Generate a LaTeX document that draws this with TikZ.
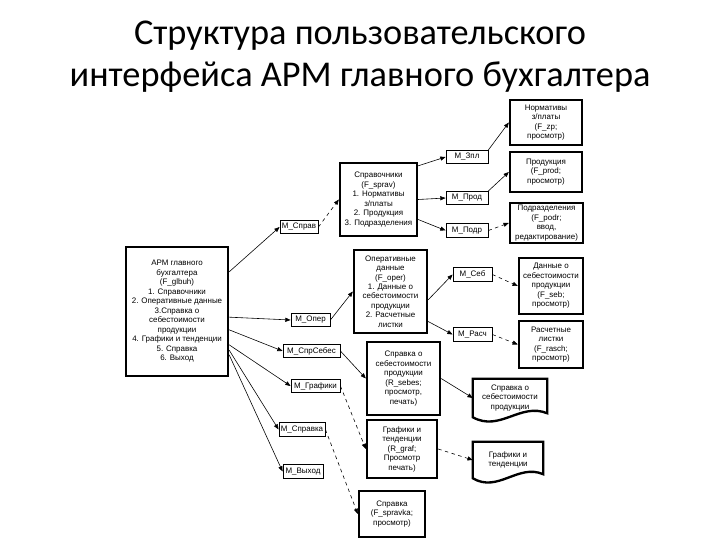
\documentclass[tikz,border=0pt]{standalone}
\usepackage{fontspec}
\setmainfont{Liberation Sans}
\newfontfamily\titlefont{Carlito}
\usetikzlibrary{arrows.meta, calc}

\begin{document}
\begin{tikzpicture}[x=0.03cm, y=-0.03cm,
    frm/.style={draw, line width=2pt, align=center, inner sep=1pt,
                font=\fontsize{6.8}{8.1}\selectfont},
    mod/.style={draw, line width=0.7pt, inner sep=0pt, minimum height=0.4cm,
                font=\fontsize{6.8}{8}\selectfont},
    rep/.style={align=center, inner sep=1pt, font=\fontsize{6.8}{8.1}\selectfont},
    lnk/.style={-{Triangle[length=4.5pt,width=3.5pt]}, line width=0.5pt},
    lnkd/.style={lnk, dashed}]
      \useasboundingbox (0,0) rectangle (720,540);
      % Title
      \node[font=\titlefont\fontsize{31}{36}\selectfont, align=center] (title) at (360,57)
            {Структура пользовательского\\интерфейса АРМ главного бухгалтера};
      % Main form
      \node[frm, minimum width=3.06cm, minimum height=3.87cm] (arm) at (177,311.5)
            {АРМ главного\\бухгалтера\\(F\_glbuh)\\1. Справочники\\2. Оперативные данные\\3.Справка о\\себестоимости\\продукции\\4. Графики и тенденции\\5. Справка\\6. Выход};
      % Modules of the main form
      \node[mod, minimum width=1.14cm] (msprav) at (299,227) {M\_Справ};
      \node[mod, minimum width=1.17cm] (moper) at (310.5,320) {M\_Опер};
      \node[mod, minimum width=1.71cm] (mspr) at (311.5,351) {M\_СпрСебес};
      \node[mod, minimum width=1.47cm] (mgraf) at (315.5,386) {M\_Графики};
      \node[mod, minimum width=1.38cm] (mspravka) at (302,429.5) {M\_Справка};
      \node[mod, minimum width=1.2cm] (mvyh) at (303,471.5) {M\_Выход};
      % Reference books
      \node[frm, minimum width=2.31cm, minimum height=2.19cm] (sprav) at (378.5,199.5)
            {Справочники\\(F\_sprav)\\1. Нормативы\\з/платы\\2. Продукция\\3. Подразделения};
      \node[mod, minimum width=1.26cm] (mzp) at (467,157) {M\_Зпл};
      \node[mod, minimum width=1.26cm] (mprod) at (467,198) {M\_Прод};
      \node[mod, minimum width=1.26cm] (mpodr) at (467,230.5) {M\_Подр};
      \node[frm, minimum width=2.16cm, minimum height=1.35cm] (norm) at (546,122.5)
            {Нормативы\\з/платы\\(F\_zp;\\просмотр)};
      \node[frm, minimum width=2.16cm, minimum height=1.2cm] (prod) at (546,172)
            {Продукция\\(F\_prod;\\просмотр)};
      \node[frm, minimum width=2.19cm, minimum height=1.2cm] (podr) at (546.5,223)
            {Подразделения\\(F\_podr;\\ввод,\\редактирование)};
      % Operative data
      \node[frm, minimum width=2.19cm, minimum height=2.49cm] (oper) at (390.5,291.5)
            {Оперативные\\данные\\(F\_oper)\\1. Данные о\\себестоимости\\продукции\\2. Расчетные\\листки};
      \node[mod, minimum width=1.17cm] (mseb) at (472.5,274.5) {M\_Себ};
      \node[mod, minimum width=1.17cm] (mrasch) at (472.5,334.5) {M\_Расч};
      \node[frm, minimum width=1.92cm, minimum height=1.68cm] (seb) at (551,286)
            {Данные о\\себестоимости\\продукции\\(F\_seb;\\просмотр)};
      \node[frm, minimum width=1.92cm, minimum height=1.41cm] (rasch) at (551,344.5)
            {Расчетные\\листки\\(F\_rasch;\\просмотр)};
      % Reports
      \node[frm, minimum width=2.19cm, minimum height=2.19cm] (rseb) at (403.5,378.5)
            {Справка о\\себестоимости\\продукции\\(R\_sebes;\\просмотр,\\печать)};
      \node[frm, minimum width=2.1cm, minimum height=1.74cm] (rgraf) at (402,449)
            {Графики и\\тенденции\\(R\_graf;\\Просмотр\\печать)};
      \node[frm, minimum width=1.98cm, minimum height=1.38cm] (fspr) at (392,514)
            {Справка\\(F\_spravka;\\просмотр)};
      % Printed documents
      \node[rep, minimum width=2.22cm, minimum height=1.14cm] (doc1) at (510,398)
            {Справка о\\себестоимости\\продукции};
      \draw[line width=2pt] (doc1.south west) -- (doc1.north west) -- (doc1.north east)
            -- ([yshift=3.4pt]doc1.south east) .. controls +(-27,-11) and +(27,15) .. (doc1.south west) -- cycle;
      \node[rep, minimum width=2.1cm, minimum height=1.08cm] (doc2) at (508,460)
            {Графики и\\тенденции};
      \draw[line width=2pt] (doc2.south west) -- (doc2.north west) -- (doc2.north east)
            -- ([yshift=3.4pt]doc2.south east) .. controls +(-25,-11) and +(25,15) .. (doc2.south west) -- cycle;
      % Links
      \draw[lnk] ([yshift=1.19cm]arm.east) -- (msprav.west);
      \draw[lnkd] (msprav.east) -- (sprav.west);
      \draw[lnk] ([yshift=-0.12cm]sprav.north east) -- (mzp.west);
      \draw[lnk] (sprav.east) -- (mprod.west);
      \draw[lnk] ([yshift=-0.6cm]sprav.east) -- (mpodr.west);
      \draw[lnk] (mzp.north east) -- (norm.west);
      \draw[lnk] (mprod.north east) -- (prod.west);
      \draw[lnkd] (mpodr.east) -- (podr.west);
      \draw[lnk] ([yshift=-0.17cm]arm.east) -- (moper.west);
      \draw[lnk] (moper.east) -- (oper.west);
      \draw[lnk] ([yshift=-0.25cm]oper.east) -- (mseb.west);
      \draw[lnk] ([yshift=-0.9cm]oper.east) -- (mrasch.west);
      \draw[lnkd] (mseb.east) -- (seb.west);
      \draw[lnkd] (mrasch.east) -- (rasch.west);
      \draw[lnk] ([yshift=-0.55cm]arm.east) -- (mspr.west);
      \draw[lnk] (mspr.east) -- (rseb.west);
      \draw[lnk] (rseb.east) -- (doc1.west);
      \draw[lnk] ([yshift=-1cm]arm.east) -- (mgraf.west);
      \draw[lnkd] (mgraf.east) -- (rgraf.west);
      \draw[lnkd] (rgraf.east) -- (doc2.west);
      \draw[lnk] ([yshift=-1.16cm]arm.east) -- (mspravka.west);
      \draw[lnkd] (mspravka.east) -- (fspr.west);
      \draw[lnk] ([yshift=-1.3cm]arm.east) -- (mvyh.west);
    \end{tikzpicture}
\end{document}
